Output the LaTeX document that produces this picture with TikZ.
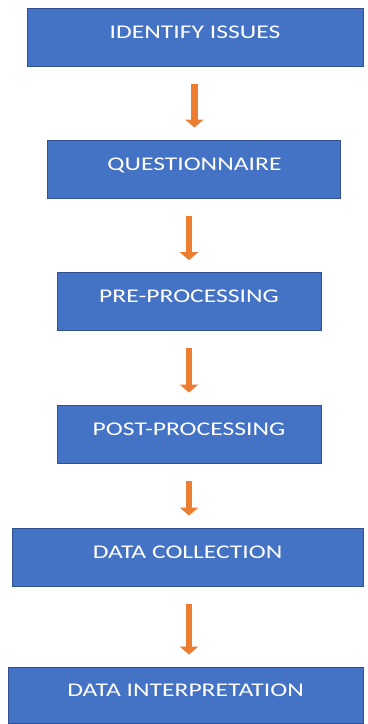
\documentclass[tikz,border=0pt]{standalone}
\usepackage{fontspec}
\newfontfamily\boxfont[FakeStretch=1.32]{Carlito}
\usetikzlibrary{arrows.meta}
\definecolor{boxblue}{HTML}{4472C4}
\definecolor{boxedge}{HTML}{2F528F}
\definecolor{arrorange}{HTML}{ED7D31}
\begin{document}
\begin{tikzpicture}[
	stepbox/.style={draw=boxedge, line width=0.6pt, fill=boxblue, text=white,
		minimum height=1.45cm, inner sep=0pt, text depth=0.25cm,
		font=\boxfont\fontsize{13.8}{15}\selectfont},
	flowarrow/.style={draw=arrorange, line width=0.16cm,
		-{Triangle[width=0.45cm, length=0.2cm]},
		shorten <=0.43cm, shorten >=0.3cm}]
\useasboundingbox (0,0) rectangle (9.175,-18.1);
\node[stepbox, minimum width=8.4cm] (issues) at (4.875,-0.925) {IDENTIFY ISSUES};
\node[stepbox, minimum width=7.325cm] (quest) at (4.86,-4.225) {QUESTIONNAIRE};
\node[stepbox, minimum width=6.6cm] (pre) at (4.725,-7.54) {PRE-PROCESSING};
\node[stepbox, minimum width=6.6cm] (post) at (4.725,-10.85) {POST-PROCESSING};
\node[stepbox, minimum width=8.775cm] (collect) at (4.69,-13.925) {DATA COLLECTION};
\node[stepbox, minimum width=8.875cm, minimum height=1.4cm] (interp) at (4.64,-17.375) {DATA INTERPRETATION};

\draw[flowarrow] (quest.north |- issues.south) -- (quest.north);
\draw[flowarrow] (pre.north |- quest.south) -- (pre.north);
\draw[flowarrow] (post.north |- pre.south) -- (post.north);
\draw[flowarrow] (post.south) -- (post.south |- collect.north);
\draw[flowarrow] (post.south |- collect.south) -- (post.south |- interp.north);
\end{tikzpicture}
\end{document}
